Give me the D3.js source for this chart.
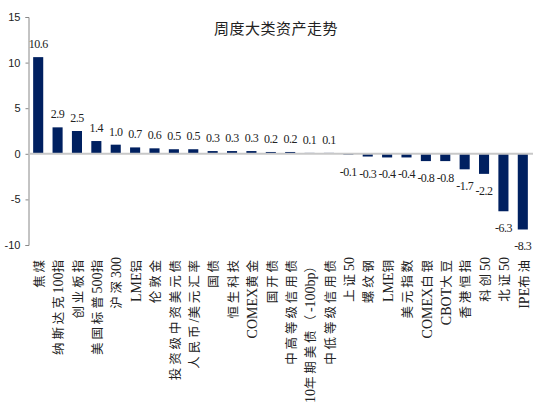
<!DOCTYPE html>
<html>
<head>
<meta charset="utf-8">
<script src="https://cdn.jsdelivr.net/npm/d3@7"></script>
<style>
    body { margin: 0; background: #fff; }
    svg { display: block; }
</style>
</head>
<body>
<div id="chart"></div>
<script>
// data
var categories = ["焦煤", "纳斯达克100指", "创业板指", "美国标普500指", "沪深300", "LME铝", "伦敦金",
    "投资级中资美元债", "人民币/美元汇率", "国债", "恒生科技", "COMEX黄金", "国开债", "中高等级信用债",
    "10年期美债（-100bp）", "中低等级信用债", "上证50", "螺纹钢", "LME铜", "美元指数", "COMEX白银",
    "CBOT大豆", "香港恒指", "科创50", "北证50", "IPE布油"];
var values = [10.6, 2.9, 2.5, 1.4, 1.0, 0.7, 0.6, 0.5, 0.5, 0.3, 0.3, 0.3, 0.2, 0.2, 0.1, 0.1,
    -0.1, -0.3, -0.4, -0.4, -0.8, -0.8, -1.7, -2.2, -6.3, -8.3];
var yTicks = [15, 10, 5, 0, -5, -10];
var title = "周度大类资产走势";

var W = 550, H = 403;
var svg = d3.select("#chart").append("svg")
    .attr("width", W)
    .attr("height", H);

var x = d3.scaleBand()
    .domain(categories)
    .range([28.5, 532.5])
    .paddingInner(0.48)
    .paddingOuter(0.24);

var y = d3.scaleLinear()
    .domain([-10, 15])
    .range([245, 17]);

var data = categories.map(function (c, i) { return {name: c, value: values[i]}; });

// plain hyphen for negatives, like the original
var fmt1 = function (v) { return v.toFixed(1); };

// title
svg.append("text")
    .attr("x", 276)
    .attr("y", 34)
    .attr("text-anchor", "middle")
    .style("font-family", "'Noto Sans CJK SC', sans-serif")
    .style("font-size", "15px")
    .style("letter-spacing", "0.5px")
    .style("fill", "#222")
    .text(title);

// y axis
var yAxis = d3.axisLeft(y).tickValues(yTicks).tickSize(3).tickFormat(function (d) { return String(d); });
var gy = svg.append("g")
    .attr("transform", "translate(28.5,0)")
    .call(yAxis);
gy.select(".domain").attr("stroke", "#888");
gy.selectAll(".tick line").attr("stroke", "#888");
gy.selectAll(".tick text")
    .attr("x", -8)
    .style("font-family", "'Liberation Sans', Arial, sans-serif")
    .style("font-size", "11px")
    .style("fill", "#222");

// bars
svg.selectAll("rect.bar")
    .data(data)
    .enter()
    .append("rect")
    .attr("class", "bar")
    .attr("x", function (d) { return x(d.name); })
    .attr("y", function (d) { return y(Math.max(0, d.value)); })
    .attr("width", x.bandwidth())
    .attr("height", function (d) { return Math.abs(y(d.value) - y(0)); })
    .style("fill", "#002060");

// zero line
svg.append("line")
    .attr("x1", 28.5)
    .attr("x2", 533)
    .attr("y1", y(0))
    .attr("y2", y(0))
    .style("stroke", "#c8c8c8")
    .style("stroke-width", 2);

// value labels
svg.selectAll("text.val")
    .data(data)
    .enter()
    .append("text")
    .attr("class", "val")
    .attr("x", function (d) { return x(d.name) + x.bandwidth() / 2; })
    .attr("y", function (d) { return d.value >= 0 ? y(d.value) - 9 : y(d.value) + 21; })
    .attr("text-anchor", "middle")
    .style("font-family", "'Liberation Serif', 'Times New Roman', serif")
    .style("font-size", "12px")
    .style("letter-spacing", "-0.5px")
    .style("fill", "#222")
    .text(function (d) { return fmt1(d.value); });

// category labels, rotated -90, end of text at the top
var cjk = /[\u3000-\u9fff\uff00-\uffef]+|[^\u3000-\u9fff\uff00-\uffef]+/g;
var cats = svg.selectAll("text.cat")
    .data(data)
    .enter()
    .append("text")
    .attr("class", "cat")
    .attr("transform", function (d) {
        return "translate(" + (x(d.name) + x.bandwidth() / 2) + ",257) rotate(-90)";
    })
    .attr("text-anchor", "end")
    .attr("dy", "0.36em")
    .style("fill", "#222");

cats.selectAll("tspan")
    .data(function (d) { return d.name.match(cjk); })
    .enter()
    .append("tspan")
    .style("font-family", function (s) {
        return /[\u3000-\u9fff\uff00-\uffef]/.test(s) ? "'Noto Sans CJK SC', sans-serif" : "'Liberation Serif', serif";
    })
    .style("font-size", function (s) {
        return /[\u3000-\u9fff\uff00-\uffef]/.test(s) ? "12.5px" : "14px";
    })
    .style("letter-spacing", function (s) {
        return /[\u3000-\u9fff\uff00-\uffef]/.test(s) ? "2.9px" : "0px";
    })
    .text(function (s) { return s; });
</script>
</body>
</html>
